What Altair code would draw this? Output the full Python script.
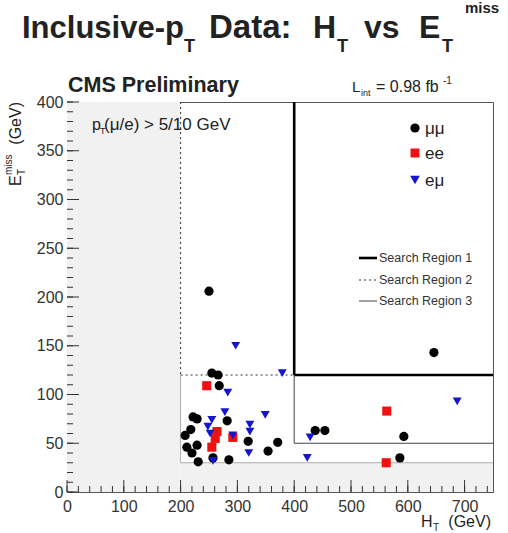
import altair as alt
import pandas as pd

# ---------------- event data: HT and missing ET (GeV) per dilepton channel ----------------
mumu_ht  = [250, 255, 266, 268, 222, 229, 282, 208, 218, 211, 229, 220, 257, 231, 285,
            319, 354, 371, 437, 454, 646, 593, 586]
mumu_met = [206, 122, 120, 109, 77, 75, 73, 58, 64, 46, 48, 40, 35, 31, 33,
            52, 42, 51, 63, 63, 143, 57, 35]
ee_ht  = [246, 264, 261, 255, 292, 563, 562]
ee_met = [109, 62, 55, 46, 56, 83, 30]
emu_ht  = [297, 379, 283, 278, 255, 248, 252, 257, 292, 322, 322, 320, 349, 423, 428, 687]
emu_met = [150, 122, 102, 82, 74, 67, 60, 32, 58, 69, 62, 40, 79, 35, 56, 93]

channels = ["μμ", "ee", "eμ"]
channel_colors = ["#000000", "#ee1111", "#1515cc"]
channel_shapes = ["circle", "square", "triangle-down"]

# search-region boundaries (segments in HT / MET)
sr_x  = [400, 400, 200, 200, 400, 400]
sr_y  = [400, 120, 400, 120, 120, 50]
sr_x2 = [400, 750, 200, 400, 400, 750]
sr_y2 = [120, 120, 120, 120, 50, 50]
sr_kind = ["SR1", "SR1", "SR2", "SR2", "SR3", "SR3"]

# shaded (excluded) area and its edge
shade_x  = [0, 200]
shade_x2 = [200, 750]
shade_y  = [0, 0]
shade_y2 = [400, 30]
edge_x  = [200, 200]
edge_y  = [120, 30]
edge_x2 = [200, 750]
edge_y2 = [30, 30]

# axis tick values
x_labels = [0, 100, 200, 300, 400, 500, 600, 700]
y_labels = [0, 50, 100, 150, 200, 250, 300, 350, 400]
x_minor = list(range(0, 750, 20))
y_minor = list(range(0, 401, 10))

# ---------------- layout ----------------
W, H = 426, 390          # plot frame
LEFT, TOP = 67, 102      # frame origin on the page
FONT = "Liberation Sans"
INK = "#222222"

x_scale = alt.Scale(domain=[0, 750], nice=False, zero=False)
y_scale = alt.Scale(domain=[0, 400], nice=False, zero=False)
x_axis = alt.Axis(values=x_labels, format="d", title=None, grid=False, ticks=False,
                  domain=False, labelFont=FONT, labelFontSize=16, labelColor="#333",
                  labelPadding=6, labelFlush=False)
y_axis = alt.Axis(values=y_labels, format="d", title=None, grid=False, ticks=False,
                  domain=False, labelFont=FONT, labelFontSize=16, labelColor="#333",
                  labelPadding=4)


def X(field):
    return alt.X(field, type="quantitative", scale=x_scale, axis=x_axis)


def Y(field):
    return alt.Y(field, type="quantitative", scale=y_scale, axis=y_axis)


def label(text, px, py, size, bold=False, align="left", angle=0, color=INK, baseline="alphabetic"):
    """Text placed at page pixel coordinates."""
    kw = dict(text=text, font=FONT, fontSize=size, fontWeight="bold" if bold else "normal",
              align=align, color=color, baseline=baseline)
    if angle:
        kw["angle"] = angle
    return alt.Chart().mark_text(**kw).encode(x=alt.value(px - LEFT), y=alt.value(py - TOP))


# ---------------- data tables ----------------
events = pd.concat([
    pd.DataFrame({"HT": mumu_ht, "MET": mumu_met, "ch": channels[0]}),
    pd.DataFrame({"HT": ee_ht, "MET": ee_met, "ch": channels[1]}),
    pd.DataFrame({"HT": emu_ht, "MET": emu_met, "ch": channels[2]}),
], ignore_index=True)
regions = pd.DataFrame({"x": sr_x, "y": sr_y, "x2": sr_x2, "y2": sr_y2, "kind": sr_kind})
shade = pd.DataFrame({"x": shade_x, "x2": shade_x2, "y": shade_y, "y2": shade_y2})
edge = pd.DataFrame({"x": edge_x, "x2": edge_x2, "y": edge_y, "y2": edge_y2})

# ---------------- layers ----------------
shade_layer = alt.Chart(shade).mark_rect(color="#f1f1f1").encode(
    x=X("x"), x2="x2", y=Y("y"), y2="y2")
edge_layer = alt.Chart(edge).mark_rule(color="#9a9a9a", strokeWidth=0.8).encode(
    x=X("x"), x2="x2", y=Y("y"), y2="y2")

sr1 = alt.Chart(regions).transform_filter("datum.kind == 'SR1'").mark_rule(
    color="#000", strokeWidth=2.6).encode(x=X("x"), x2="x2", y=Y("y"), y2="y2")
sr2 = alt.Chart(regions).transform_filter("datum.kind == 'SR2'").mark_rule(
    color="#333", strokeWidth=1, strokeDash=[2, 3]).encode(x=X("x"), x2="x2", y=Y("y"), y2="y2")
sr3 = alt.Chart(regions).transform_filter("datum.kind == 'SR3'").mark_rule(
    color="#444", strokeWidth=1).encode(x=X("x"), x2="x2", y=Y("y"), y2="y2")

# inward ticks, ROOT style
xt_minor = alt.Chart(pd.DataFrame({"v": x_minor})).mark_rule(color="#333", strokeWidth=1).encode(
    x=X("v"), y=alt.value(H), y2=alt.value(H - 6))
xt_major = alt.Chart(pd.DataFrame({"v": x_labels})).mark_rule(color="#333", strokeWidth=1).encode(
    x=X("v"), y=alt.value(H), y2=alt.value(H - 12))
yt_minor = alt.Chart(pd.DataFrame({"v": y_minor})).mark_rule(color="#333", strokeWidth=1).encode(
    y=Y("v"), x=alt.value(0), x2=alt.value(6))
yt_major = alt.Chart(pd.DataFrame({"v": y_labels})).mark_rule(color="#333", strokeWidth=1).encode(
    y=Y("v"), x=alt.value(0), x2=alt.value(12))

points = alt.Chart(events).mark_point(filled=True, opacity=1, strokeWidth=0).encode(
    x=X("HT"), y=Y("MET"),
    color=alt.Color("ch:N", scale=alt.Scale(domain=channels, range=channel_colors), legend=None),
    shape=alt.Shape("ch:N", scale=alt.Scale(domain=channels, range=channel_shapes), legend=None),
    size=alt.Size("ch:N", scale=alt.Scale(domain=channels, range=[85, 80, 95]), legend=None),
)

# ---------------- legends ----------------
legend_rows = [128, 153, 180]
marker_legend = []
for ch, col, shp, sz, ry in zip(channels, channel_colors, channel_shapes, [85, 80, 95], legend_rows):
    marker_legend.append(
        alt.Chart().mark_point(filled=True, opacity=1, strokeWidth=0, shape=shp, color=col, size=sz)
        .encode(x=alt.value(415 - LEFT), y=alt.value(ry - TOP)))
    marker_legend.append(label(ch, 425, ry + 6, 17, color="#222"))

line_rows = [258, 280, 301]
line_legend = [
    alt.Chart().mark_rule(color="#000", strokeWidth=2.6).encode(
        x=alt.value(359 - LEFT), x2=alt.value(377 - LEFT), y=alt.value(line_rows[0] - TOP)),
    alt.Chart().mark_rule(color="#333", strokeWidth=1, strokeDash=[2, 3]).encode(
        x=alt.value(359 - LEFT), x2=alt.value(377 - LEFT), y=alt.value(line_rows[1] - TOP)),
    alt.Chart().mark_rule(color="#444", strokeWidth=1).encode(
        x=alt.value(359 - LEFT), x2=alt.value(377 - LEFT), y=alt.value(line_rows[2] - TOP)),
]
for i, ry in enumerate(line_rows):
    line_legend.append(label(f"Search Region {i + 1}", 379, ry + 4, 12.5, color="#333"))

# ---------------- titles and captions ----------------
texts = [
    label("Inclusive-p", 22, 38, 31, bold=True),
    label("T", 184, 52, 18, bold=True),
    label("Data:", 209, 38, 33, bold=True),
    label("H", 313, 38, 32, bold=True),
    label("T", 337, 52, 18, bold=True),
    label("vs", 364, 38, 32, bold=True),
    label("E", 419, 38, 32, bold=True),
    label("T", 442, 52, 18, bold=True),
    label("miss", 465, 13, 15, bold=True),

    label("CMS Preliminary", 68, 92, 21.5, bold=True),

    label("L", 352, 92, 15),
    label("int", 361, 96, 9),
    label("= 0.98 fb", 376, 92, 16),
    label("-1", 443, 84, 10),

    label("p", 92, 130, 16),
    label("T", 100, 134, 9),
    label("(μ/e) > 5/10 GeV", 104, 130, 17),

    # x-axis title
    label("H", 421, 527, 16),
    label("T", 433, 531, 10),
    label("(GeV)", 491, 527, 16, align="right"),

    # y-axis title (rotated)
    label("E", 21, 186, 16, angle=270),
    label("T", 25, 175, 10, angle=270),
    label("miss", 12, 175, 10, angle=270),
    label("(GeV)", 21, 102, 16, angle=270, align="right"),
]

chart = alt.layer(
    shade_layer, edge_layer, sr2, sr3, sr1,
    xt_minor, xt_major, yt_minor, yt_major,
    points, *marker_legend, *line_legend, *texts,
).properties(
    width=W, height=H,
    autosize=alt.AutoSizeParams(type="none"),
    padding={"left": LEFT, "top": TOP, "right": 508 - LEFT - W, "bottom": 533 - TOP - H},
    background="white",
).configure_view(
    stroke="#555555", strokeWidth=1
)

chart.save("out.html", embed_options={"renderer": "svg", "actions": False})
